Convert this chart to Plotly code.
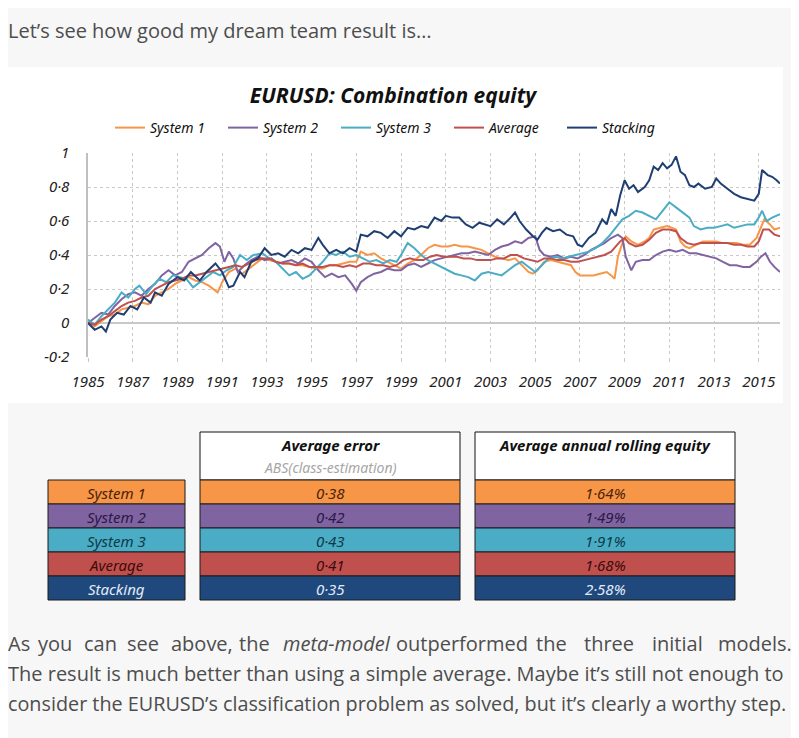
import plotly.graph_objects as go

W, H = 799, 738
OFF = 8  # page offset of the figure inside the browser window

def px(x):
    return (x - OFF) / W

def py(y):
    return 1 - (y - OFF) / H

# ---------------- DATA ----------------
series_names = ["System 1", "System 2", "System 3", "Average", "Stacking"]
series_colors = ["#f79646", "#8064a2", "#4bacc6", "#c0504d", "#1f3f73"]

sys1_x = [1985.0, 1985.3, 1985.6, 1985.9, 1986.2, 1986.5, 1986.8, 1987.1, 1987.4, 1987.7, 1988.0, 1988.3, 1988.6, 1988.9,
          1989.2, 1989.5, 1989.8, 1990.1, 1990.4, 1990.6, 1990.8, 1991.0, 1991.3, 1991.6, 1991.9, 1992.2, 1992.5, 1992.8,
          1993.1, 1993.4, 1993.7, 1994.0, 1994.3, 1994.6, 1994.9, 1995.2, 1995.5, 1995.8, 1996.1, 1996.4, 1996.7, 1997.0,
          1997.2, 1997.5, 1997.8, 1998.1, 1998.4, 1998.7, 1999.0, 1999.3, 1999.6, 1999.9, 2000.2, 2000.5, 2000.8, 2001.1,
          2001.4, 2001.7, 2002.0, 2002.3, 2002.6, 2002.9, 2003.2, 2003.5, 2003.8, 2004.1, 2004.4, 2004.7, 2004.9, 2005.1,
          2005.4, 2005.7, 2006.0, 2006.3, 2006.6, 2006.8, 2007.0, 2007.3, 2007.6, 2007.9, 2008.2, 2008.4, 2008.55, 2008.7,
          2008.9, 2009.05, 2009.3, 2009.6, 2009.9, 2010.1, 2010.3, 2010.6, 2010.9, 2011.1, 2011.3, 2011.5, 2011.7, 2011.9,
          2012.2, 2012.5, 2012.8, 2013.1, 2013.4, 2013.7, 2014.0, 2014.3, 2014.6, 2014.9, 2015.1, 2015.25, 2015.5, 2015.7,
          2015.95]
sys1_y = [0.00, -0.02, 0.01, 0.04, 0.05, 0.08, 0.09, 0.10, 0.12, 0.11, 0.16, 0.18, 0.20, 0.23,
          0.25, 0.27, 0.25, 0.24, 0.22, 0.20, 0.18, 0.24, 0.30, 0.32, 0.29, 0.32, 0.35, 0.38,
          0.37, 0.36, 0.35, 0.35, 0.34, 0.34, 0.33, 0.32, 0.32, 0.34, 0.34, 0.35, 0.36, 0.36,
          0.42, 0.40, 0.41, 0.38, 0.36, 0.34, 0.32, 0.35, 0.37, 0.40, 0.44, 0.46, 0.45, 0.45,
          0.46, 0.45, 0.45, 0.44, 0.43, 0.41, 0.39, 0.38, 0.37, 0.38, 0.34, 0.30, 0.29, 0.31,
          0.36, 0.37, 0.36, 0.35, 0.34, 0.30, 0.28, 0.28, 0.28, 0.29, 0.30, 0.28, 0.26, 0.39,
          0.47, 0.51, 0.48, 0.46, 0.48, 0.50, 0.55, 0.56, 0.57, 0.56, 0.55, 0.48, 0.45, 0.44,
          0.46, 0.48, 0.48, 0.48, 0.47, 0.47, 0.47, 0.46, 0.46, 0.50, 0.57, 0.61, 0.58, 0.55,
          0.56]

sys2_x = [1985.0, 1985.3, 1985.6, 1985.9, 1986.2, 1986.5, 1986.8, 1987.1, 1987.4, 1987.7, 1988.0, 1988.3, 1988.6, 1988.9,
          1989.2, 1989.5, 1989.8, 1990.1, 1990.4, 1990.7, 1990.9, 1991.1, 1991.3, 1991.5, 1991.7, 1992.0, 1992.3, 1992.6,
          1992.9, 1993.2, 1993.5, 1993.8, 1994.1, 1994.4, 1994.7, 1995.0, 1995.3, 1995.6, 1995.9, 1996.2, 1996.5, 1996.8,
          1997.0, 1997.2, 1997.5, 1997.8, 1998.1, 1998.4, 1998.7, 1999.0, 1999.3, 1999.6, 1999.9, 2000.2, 2000.5, 2000.8,
          2001.1, 2001.4, 2001.7, 2002.0, 2002.3, 2002.6, 2002.9, 2003.2, 2003.5, 2003.8, 2004.1, 2004.4, 2004.7, 2005.0,
          2005.2, 2005.4, 2005.7, 2006.0, 2006.3, 2006.6, 2006.9, 2007.2, 2007.5, 2007.8, 2008.1, 2008.4, 2008.7, 2008.9,
          2009.05, 2009.3, 2009.5, 2009.8, 2010.1, 2010.4, 2010.7, 2011.0, 2011.3, 2011.6, 2011.9, 2012.2, 2012.5, 2012.8,
          2013.1, 2013.4, 2013.7, 2014.0, 2014.3, 2014.6, 2014.9, 2015.1, 2015.3, 2015.5, 2015.7, 2015.95]
sys2_y = [0.00, 0.03, 0.06, 0.05, 0.10, 0.14, 0.17, 0.18, 0.16, 0.20, 0.23, 0.28, 0.31, 0.28,
          0.30, 0.36, 0.38, 0.40, 0.44, 0.47, 0.45, 0.36, 0.42, 0.38, 0.30, 0.34, 0.37, 0.39,
          0.37, 0.38, 0.35, 0.36, 0.37, 0.35, 0.38, 0.36, 0.31, 0.27, 0.29, 0.27, 0.28, 0.23,
          0.19, 0.24, 0.27, 0.29, 0.30, 0.32, 0.31, 0.31, 0.34, 0.35, 0.33, 0.35, 0.37, 0.38,
          0.39, 0.40, 0.41, 0.41, 0.42, 0.41, 0.40, 0.43, 0.45, 0.46, 0.48, 0.47, 0.50, 0.51,
          0.43, 0.40, 0.39, 0.40, 0.38, 0.39, 0.38, 0.40, 0.43, 0.45, 0.47, 0.50, 0.52, 0.50,
          0.39, 0.31, 0.36, 0.37, 0.37, 0.40, 0.42, 0.43, 0.42, 0.43, 0.41, 0.41, 0.40, 0.39,
          0.38, 0.36, 0.34, 0.34, 0.33, 0.33, 0.36, 0.39, 0.41, 0.36, 0.33, 0.30]

sys3_x = [1985.0, 1985.3, 1985.6, 1985.9, 1986.2, 1986.5, 1986.8, 1987.1, 1987.3, 1987.6, 1987.9, 1988.2, 1988.5, 1988.8,
          1989.1, 1989.4, 1989.7, 1990.0, 1990.3, 1990.6, 1990.9, 1991.2, 1991.5, 1991.8, 1992.1, 1992.4, 1992.8, 1993.1,
          1993.4, 1993.7, 1994.0, 1994.3, 1994.6, 1994.9, 1995.2, 1995.5, 1995.8, 1996.1, 1996.4, 1996.7, 1997.0, 1997.3,
          1997.6, 1997.9, 1998.2, 1998.5, 1998.8, 1999.0, 1999.3, 1999.6, 1999.9, 2000.2, 2000.5, 2000.8, 2001.1, 2001.4,
          2001.7, 2002.0, 2002.3, 2002.6, 2002.9, 2003.2, 2003.5, 2003.8, 2004.1, 2004.4, 2004.7, 2005.0, 2005.3, 2005.6,
          2005.9, 2006.2, 2006.5, 2006.8, 2007.1, 2007.4, 2007.7, 2008.0, 2008.3, 2008.6, 2008.9, 2009.2, 2009.5, 2009.8,
          2010.1, 2010.4, 2010.7, 2011.0, 2011.3, 2011.6, 2011.9, 2012.1, 2012.4, 2012.7, 2013.0, 2013.3, 2013.6, 2013.9,
          2014.2, 2014.5, 2014.8, 2015.0, 2015.15, 2015.35, 2015.6, 2015.8, 2015.95]
sys3_y = [0.02, -0.01, 0.04, 0.08, 0.12, 0.18, 0.15, 0.20, 0.22, 0.17, 0.22, 0.26, 0.24, 0.28,
          0.27, 0.26, 0.21, 0.24, 0.27, 0.30, 0.28, 0.31, 0.33, 0.40, 0.37, 0.40, 0.41, 0.38,
          0.36, 0.32, 0.28, 0.30, 0.26, 0.28, 0.32, 0.36, 0.41, 0.40, 0.42, 0.39, 0.40, 0.38,
          0.36, 0.37, 0.35, 0.37, 0.36, 0.40, 0.47, 0.44, 0.40, 0.37, 0.35, 0.33, 0.31, 0.29,
          0.28, 0.27, 0.25, 0.29, 0.30, 0.29, 0.28, 0.31, 0.34, 0.36, 0.33, 0.30, 0.34, 0.38,
          0.39, 0.38, 0.39, 0.40, 0.41, 0.42, 0.44, 0.47, 0.51, 0.56, 0.61, 0.63, 0.66, 0.65,
          0.63, 0.61, 0.66, 0.71, 0.68, 0.65, 0.62, 0.57, 0.55, 0.56, 0.56, 0.57, 0.58, 0.56,
          0.57, 0.58, 0.58, 0.62, 0.66, 0.60, 0.62, 0.63, 0.64]

avg_x = [1985.0, 1985.3, 1985.6, 1985.9, 1986.2, 1986.5, 1986.8, 1987.1, 1987.4, 1987.7, 1988.0, 1988.3, 1988.6, 1988.9,
         1989.2, 1989.5, 1989.8, 1990.1, 1990.4, 1990.7, 1991.0, 1991.3, 1991.6, 1991.9, 1992.2, 1992.5, 1992.8, 1993.1,
         1993.4, 1993.7, 1994.0, 1994.3, 1994.6, 1994.9, 1995.2, 1995.5, 1995.8, 1996.1, 1996.4, 1996.7, 1997.0, 1997.3,
         1997.6, 1997.9, 1998.2, 1998.5, 1998.8, 1999.1, 1999.4, 1999.7, 2000.0, 2000.3, 2000.6, 2000.9, 2001.2, 2001.5,
         2001.8, 2002.1, 2002.4, 2002.7, 2003.0, 2003.3, 2003.6, 2003.9, 2004.2, 2004.5, 2004.8, 2005.1, 2005.4, 2005.7,
         2006.0, 2006.3, 2006.6, 2006.9, 2007.2, 2007.5, 2007.8, 2008.1, 2008.4, 2008.6, 2008.8, 2009.0, 2009.2, 2009.5,
         2009.8, 2010.1, 2010.4, 2010.7, 2011.0, 2011.3, 2011.5, 2011.8, 2012.1, 2012.4, 2012.7, 2013.0, 2013.3, 2013.6,
         2013.9, 2014.2, 2014.5, 2014.8, 2015.0, 2015.2, 2015.45, 2015.7, 2015.95]
avg_y = [0.00, -0.01, 0.02, 0.04, 0.07, 0.10, 0.12, 0.13, 0.15, 0.16, 0.20, 0.22, 0.24, 0.25,
         0.26, 0.28, 0.28, 0.29, 0.30, 0.31, 0.32, 0.33, 0.34, 0.33, 0.35, 0.37, 0.38, 0.38,
         0.36, 0.35, 0.35, 0.34, 0.35, 0.33, 0.33, 0.33, 0.34, 0.34, 0.33, 0.34, 0.33, 0.35,
         0.35, 0.34, 0.34, 0.33, 0.34, 0.37, 0.38, 0.37, 0.37, 0.39, 0.40, 0.39, 0.39, 0.39,
         0.38, 0.38, 0.37, 0.37, 0.37, 0.38, 0.38, 0.40, 0.40, 0.38, 0.37, 0.36, 0.38, 0.38,
         0.37, 0.37, 0.36, 0.36, 0.37, 0.38, 0.39, 0.40, 0.42, 0.45, 0.48, 0.50, 0.47, 0.45,
         0.46, 0.49, 0.53, 0.55, 0.55, 0.54, 0.50, 0.47, 0.46, 0.47, 0.47, 0.47, 0.47, 0.47,
         0.46, 0.46, 0.45, 0.45, 0.48, 0.55, 0.55, 0.52, 0.51]

stack_x = [1985.0, 1985.3, 1985.6, 1985.8, 1986.0, 1986.3, 1986.6, 1986.9, 1987.2, 1987.5, 1987.8, 1988.0, 1988.3, 1988.6,
           1989.0, 1989.3, 1989.6, 1990.0, 1990.3, 1990.7, 1991.0, 1991.3, 1991.5, 1991.8, 1992.0, 1992.3, 1992.6, 1992.9,
           1993.2, 1993.5, 1993.8, 1994.1, 1994.4, 1994.7, 1995.0, 1995.3, 1995.5, 1995.8, 1996.1, 1996.4, 1996.7, 1997.0,
           1997.2, 1997.5, 1997.8, 1998.1, 1998.4, 1998.7, 1999.0, 1999.3, 1999.6, 1999.9, 2000.2, 2000.5, 2000.8, 2001.0,
           2001.3, 2001.6, 2001.9, 2002.2, 2002.5, 2002.8, 2003.0, 2003.3, 2003.6, 2003.9, 2004.1, 2004.3, 2004.6, 2004.9,
           2005.1, 2005.3, 2005.5, 2005.8, 2006.1, 2006.4, 2006.7, 2006.9, 2007.1, 2007.4, 2007.7, 2008.0, 2008.2, 2008.4,
           2008.6, 2008.8, 2009.0, 2009.2, 2009.4, 2009.6, 2009.9, 2010.1, 2010.3, 2010.5, 2010.7, 2010.9, 2011.1, 2011.3,
           2011.5, 2011.7, 2011.9, 2012.1, 2012.3, 2012.6, 2012.9, 2013.1, 2013.3, 2013.6, 2013.9, 2014.2, 2014.5, 2014.8,
           2015.0, 2015.15, 2015.4, 2015.6, 2015.8, 2015.95]
stack_y = [0.00, -0.04, -0.02, -0.05, 0.02, 0.06, 0.05, 0.10, 0.08, 0.15, 0.12, 0.18, 0.16, 0.23,
           0.27, 0.25, 0.30, 0.25, 0.30, 0.35, 0.30, 0.21, 0.22, 0.30, 0.27, 0.36, 0.38, 0.44,
           0.40, 0.41, 0.39, 0.43, 0.41, 0.44, 0.43, 0.50, 0.46, 0.41, 0.43, 0.41, 0.44, 0.42,
           0.52, 0.51, 0.54, 0.53, 0.50, 0.54, 0.51, 0.56, 0.55, 0.57, 0.56, 0.62, 0.60, 0.63,
           0.62, 0.62, 0.58, 0.56, 0.59, 0.58, 0.57, 0.61, 0.58, 0.62, 0.65, 0.60, 0.55, 0.51,
           0.49, 0.53, 0.56, 0.54, 0.55, 0.52, 0.51, 0.46, 0.45, 0.50, 0.53, 0.61, 0.58, 0.67,
           0.63, 0.75, 0.84, 0.79, 0.81, 0.77, 0.80, 0.84, 0.92, 0.90, 0.94, 0.91, 0.93, 0.98,
           0.89, 0.87, 0.81, 0.80, 0.82, 0.79, 0.80, 0.85, 0.82, 0.79, 0.76, 0.74, 0.73, 0.72,
           0.76, 0.90, 0.87, 0.86, 0.84, 0.82]

y_tick_vals = [-0.2, 0, 0.2, 0.4, 0.6, 0.8, 1]
y_tick_text = ["-0·2", "0", "0·2", "0·4", "0·6", "0·8", "1"]
x_tick_vals = [1985, 1987, 1989, 1991, 1993, 1995, 1997, 1999, 2001, 2003, 2005, 2007, 2009, 2011, 2013, 2015]

table_rows = ["System 1", "System 2", "System 3", "Average", "Stacking"]
avg_error = ["0·38", "0·42", "0·43", "0·41", "0·35"]
rolling_equity = ["1·64%", "1·49%", "1·91%", "1·68%", "2·58%"]
row_fill = ["#f79646", "#8064a2", "#4bacc6", "#c0504d", "#1f497d"]
row_text = ["#4a2208", "#2a1846", "#0c3a46", "#3d0b0b", "#e2eaf6"]

# ---------------- FIGURE ----------------
fig = go.Figure()
xs = [sys1_x, sys2_x, sys3_x, avg_x, stack_x]
ys = [sys1_y, sys2_y, sys3_y, avg_y, stack_y]
for name, col, x, y in zip(series_names, series_colors, xs, ys):
    fig.add_trace(go.Scatter(x=x, y=y, mode="lines", name=name,
                             line=dict(color=col, width=2)))

chart_font = "Noto Sans"
page_font = "Open Sans"

shapes = []
# white chart card
shapes.append(dict(type="rect", xref="paper", yref="paper", x0=px(0), x1=px(783), y0=py(403), y1=py(67),
                   fillcolor="white", line=dict(width=0), layer="below"))

annotations = []
# ---------------- TABLE ----------------
row_h = 24
top = 480
cols = [(48, 185), (200, 460), (475, 735)]
for (x0, x1) in cols[1:]:
    shapes.append(dict(type="rect", xref="paper", yref="paper", x0=px(x0), x1=px(x1), y0=py(480), y1=py(432),
                       fillcolor="white", line=dict(color="#111", width=1)))
for i, name in enumerate(table_rows):
    y0 = top + i * row_h
    y1 = y0 + row_h
    for (x0, x1) in cols:
        shapes.append(dict(type="rect", xref="paper", yref="paper", x0=px(x0), x1=px(x1), y0=py(y1), y1=py(y0),
                           fillcolor=row_fill[i], line=dict(color="#1a1a1a", width=1)))
    vals = [name, avg_error[i], rolling_equity[i]]
    for (x0, x1), v in zip(cols, vals):
        annotations.append(dict(xref="paper", yref="paper", x=px((x0 + x1) / 2), y=py(y0 + row_h / 2 + 1),
                                text=v, showarrow=False, xanchor="center", yanchor="middle",
                                font=dict(family=chart_font, size=15, color=row_text[i], style="italic")))

annotations.append(dict(xref="paper", yref="paper", x=px(330), y=py(445), text="<b>Average error</b>",
                        showarrow=False, xanchor="center", yanchor="middle",
                        font=dict(family=chart_font, size=15, color="#111", style="italic")))
annotations.append(dict(xref="paper", yref="paper", x=px(330), y=py(468), text="ABS(class-estimation)",
                        showarrow=False, xanchor="center", yanchor="middle",
                        font=dict(family=chart_font, size=14, color="#a6a6a6", style="italic")))
annotations.append(dict(xref="paper", yref="paper", x=px(605), y=py(445), text="<b>Average annual rolling equity</b>",
                        showarrow=False, xanchor="center", yanchor="middle",
                        font=dict(family=chart_font, size=15, color="#111", style="italic")))

# ---------------- PAGE TEXT ----------------
text_col = "#4d4d4d"
left_edge = px(OFF)
annotations.append(dict(xref="paper", yref="paper", x=left_edge, y=py(30),
                        text="Let’s see how good my dream team result is…",
                        showarrow=False, xanchor="left", yanchor="middle", xshift=-2,
                        font=dict(family=page_font, size=20, color=text_col)))

line1_words = ["you", "can", "see", "above,", "the", "<i>meta-model</i>", "outperformed", "the", "three",
               "initial", "models."]
line1_center = [55, 100, 142.5, 201.5, 254.5, 337, 461.5, 551, 608.5, 677.5, 755]
annotations.append(dict(xref="paper", yref="paper", x=left_edge, y=py(643), text="As", showarrow=False,
                        xanchor="left", yanchor="middle", xshift=-2,
                        font=dict(family=page_font, size=20, color=text_col)))
for w, cx in zip(line1_words, line1_center):
    annotations.append(dict(xref="paper", yref="paper", x=px(cx), y=py(643), text=w, showarrow=False,
                            xanchor="center", yanchor="middle",
                            font=dict(family=page_font, size=20, color=text_col)))
annotations.append(dict(xref="paper", yref="paper", x=left_edge, y=py(673),
                        text="The result is much better than using a simple average. Maybe it’s still not enough to",
                        showarrow=False, xanchor="left", yanchor="middle", xshift=-2,
                        font=dict(family=page_font, size=20, color=text_col)))
annotations.append(dict(xref="paper", yref="paper", x=left_edge, y=py(703),
                        text="consider the EURUSD’s classification problem as solved, but it’s clearly a worthy step.",
                        showarrow=False, xanchor="left", yanchor="middle", xshift=-2,
                        font=dict(family=page_font, size=19.8, color=text_col)))

grid_col = "#c8c8c8"
fig.update_layout(
    width=W, height=H, autosize=False,
    margin=dict(l=0, r=0, t=0, b=0, pad=0),
    paper_bgcolor="#f7f7f7",
    plot_bgcolor="white",
    title=dict(text="<b>EURUSD: Combination equity</b>", x=px(393), y=py(96), xanchor="center", yanchor="middle",
               font=dict(family=chart_font, size=21, color="#111", style="italic")),
    showlegend=True,
    legend=dict(orientation="h", x=px(110), y=py(128), xanchor="left", yanchor="middle",
                bgcolor="rgba(0,0,0,0)", itemwidth=30, entrywidth=68, entrywidthmode="pixels",
                font=dict(family=chart_font, size=14, color="#111", style="italic"),
                traceorder="normal"),
    xaxis=dict(domain=[px(88), px(780)], range=[1985, 2015.95], tickvals=x_tick_vals,
               ticktext=[str(v) for v in x_tick_vals], automargin=False,
               showgrid=True, gridcolor=grid_col, griddash="dot", gridwidth=1,
               showline=False, zeroline=False, ticks="outside", ticklen=4, tickcolor=grid_col,
               ticklabelstandoff=7,
               tickfont=dict(family=chart_font, size=15, color="#222", style="italic")),
    yaxis=dict(domain=[py(357), py(153)], range=[-0.2, 1.0], tickvals=y_tick_vals, ticktext=y_tick_text,
               automargin=False,
               showgrid=True, gridcolor=grid_col, griddash="dot", gridwidth=1,
               showline=True, linecolor="#bfbfbf", linewidth=1.5,
               zeroline=True, zerolinecolor="#c8c8c8", zerolinewidth=1.5,
               ticks="", ticklabelstandoff=14,
               tickfont=dict(family=chart_font, size=15, color="#222", style="italic")),
    shapes=shapes,
    annotations=annotations,
)

fig.write_html("out.html")
